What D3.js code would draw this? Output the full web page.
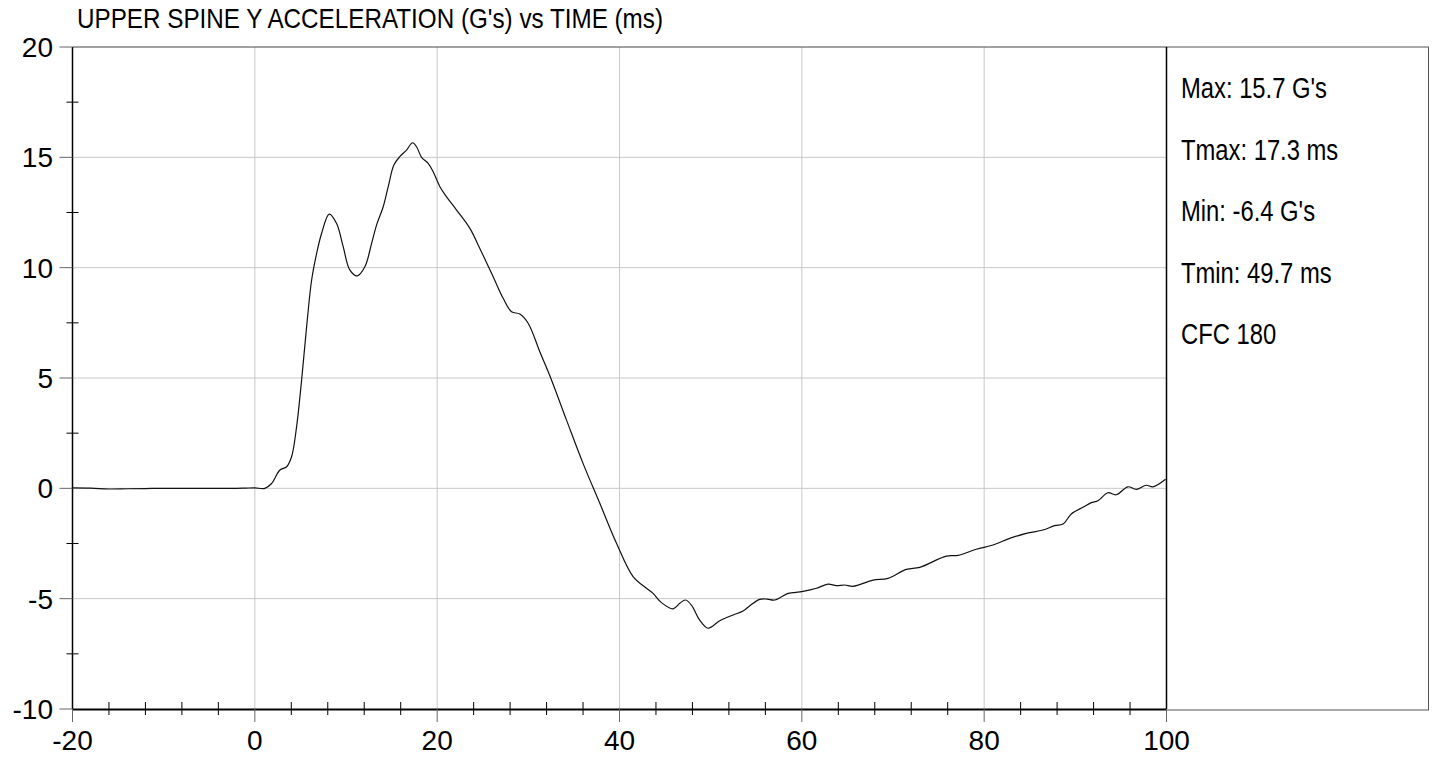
<!DOCTYPE html>
<html><head><meta charset="utf-8">
<script src="https://cdn.jsdelivr.net/npm/d3@7"></script>
<style>
html,body{margin:0;padding:0;background:#fff;}
svg text{font-family:"Liberation Sans",Arial,sans-serif;fill:#000;}
</style></head>
<body><svg id="c" width="1436" height="757"></svg>
<script>
const titleText = "UPPER SPINE Y ACCELERATION (G's) vs TIME (ms)";
const xTickValues = [-20, 0, 20, 40, 60, 80, 100];
const yTickValues = [-10, -5, 0, 5, 10, 15, 20];
const statLabels = ["Max: 15.7 G's", "Tmax: 17.3 ms", "Min: -6.4 G's", "Tmin: 49.7 ms", "CFC 180"];
const timeMs = [-20,-18,-16,-14,-12,-10,-8,-6,-4,-2,-1,0,1.1,1.84,2.75,3.49,4.03,4.58,5.13,5.68,6.23,6.78,7.32,8.16,8.97,9.69,10.43,11.23,12.07,12.81,13.35,14.08,14.63,15.25,15.9,16.64,17.3,17.74,18.29,19.01,19.56,20.3,21.03,22.13,23.59,24.68,26.14,27.24,28.16,29.07,29.98,31.26,32.54,34.19,36.0,37.84,39.67,41.49,42.96,43.68,44.6,45.88,46.61,47.24,47.89,48.8,49.72,51.0,52.46,53.56,54.3,55.38,56.2,57.03,58.49,59.04,60.13,61.6,62.87,63.79,64.7,65.62,67.81,69.45,71.47,72.93,75.85,77.13,79.14,80.97,82.8,84.63,86.45,87.73,88.65,89.56,90.83,91.75,92.48,93.57,94.49,95.77,96.69,97.78,98.51,99.9];
const accelG = [0.02,0.01,-0.03,-0.02,-0.01,0,0,0,0,0,0.01,0.02,0,0.22,0.83,0.98,1.43,2.79,4.9,7.32,9.44,10.65,11.55,12.43,12.0,10.95,9.89,9.63,10.04,11.1,11.93,12.76,13.67,14.65,15.03,15.33,15.66,15.48,15.0,14.73,14.35,13.67,13.21,12.61,11.78,10.87,9.59,8.61,8.0,7.9,7.48,6.19,4.91,3.09,1.13,-0.68,-2.49,-4.0,-4.53,-4.76,-5.18,-5.46,-5.21,-5.06,-5.29,-5.97,-6.34,-6.0,-5.74,-5.56,-5.32,-5.03,-5.02,-5.06,-4.76,-4.73,-4.67,-4.53,-4.34,-4.41,-4.38,-4.44,-4.16,-4.08,-3.67,-3.58,-3.07,-3.04,-2.76,-2.57,-2.27,-2.04,-1.89,-1.69,-1.62,-1.16,-0.86,-0.65,-0.56,-0.2,-0.29,0.07,-0.05,0.14,0.07,0.41];

const svg = d3.select("#c");
const L = 72.5, R = 1166.5, T = 47, B = 709;
const x = d3.scaleLinear().domain([-20, 100]).range([L, R]);
const y = d3.scaleLinear().domain([-10, 20]).range([B, T]);

// gridlines
svg.append("g").selectAll("line").data(xTickValues.slice(1,-1)).join("line")
  .attr("x1", d=>x(d)).attr("x2", d=>x(d)).attr("y1", T).attr("y2", B)
  .attr("stroke", "#c8c8c8").attr("stroke-width", 1);
svg.append("g").selectAll("line").data(yTickValues.slice(1,-1)).join("line")
  .attr("x1", L).attr("x2", R).attr("y1", d=>y(d)).attr("y2", d=>y(d))
  .attr("stroke", "#c8c8c8").attr("stroke-width", 1);

// right stats box
svg.append("rect").attr("x", R).attr("y", T).attr("width", 1428.5 - R).attr("height", B + 1 - T)
  .attr("fill", "none").attr("stroke", "#555").attr("stroke-width", 1);

// frame
svg.append("line").attr("x1", L).attr("x2", R).attr("y1", T).attr("y2", T).attr("stroke", "#444");
svg.append("line").attr("x1", R).attr("x2", R).attr("y1", T).attr("y2", B).attr("stroke", "#000").attr("stroke-width", 1.5);

// x axis
const xMinor = d3.range(-20, 101, 4);
const xAxis = d3.axisBottom(x).tickValues(xMinor).tickSize(0).tickFormat("");
const gx = svg.append("g").attr("transform", `translate(0,${B})`).call(xAxis);
gx.select(".domain").attr("stroke", "#000").attr("stroke-width", 2);
svg.append("g").selectAll("line").data(xMinor.filter(d => d % 20 !== 0)).join("line")
  .attr("x1", d=>x(d)).attr("x2", d=>x(d)).attr("y1", B - 7).attr("y2", B + 6)
  .attr("stroke", "#000").attr("stroke-width", 1);
svg.append("g").selectAll("line").data(xTickValues).join("line")
  .attr("x1", d=>x(d)).attr("x2", d=>x(d)).attr("y1", B).attr("y2", B + 13)
  .attr("stroke", "#666").attr("stroke-width", 1);
svg.append("g").selectAll("text").data(xTickValues).join("text")
  .attr("x", d=>x(d)).attr("y", 750).attr("text-anchor", "middle")
  .attr("font-size", 28).text(d=>d);

// y axis
const yMinor = d3.range(-10, 20.1, 2.5);
svg.append("line").attr("x1", L).attr("x2", L).attr("y1", T).attr("y2", B).attr("stroke", "#000").attr("stroke-width", 1.5);
svg.append("g").selectAll("line").data(yMinor.filter(d => d % 5 !== 0)).join("line")
  .attr("x1", L - 6).attr("x2", L + 6).attr("y1", d=>y(d)).attr("y2", d=>y(d))
  .attr("stroke", "#000").attr("stroke-width", 1);
svg.append("g").selectAll("line").data(yTickValues).join("line")
  .attr("x1", L - 13).attr("x2", L).attr("y1", d=>y(d)).attr("y2", d=>y(d))
  .attr("stroke", "#666").attr("stroke-width", 1);
svg.append("g").selectAll("text").data(yTickValues).join("text")
  .attr("x", 53).attr("y", d=>y(d) + 10).attr("text-anchor", "end")
  .attr("font-size", 28).text(d=>d);

// series line
const line = d3.line().x((d,i)=>x(timeMs[i])).y(d=>y(d)).curve(d3.curveCatmullRom.alpha(0.5));
svg.append("path").datum(accelG).attr("d", line)
  .attr("fill", "none").attr("stroke", "#111").attr("stroke-width", 1.2);

// title (condensed glyphs)
svg.append("text").attr("x", 77).attr("y", 28).attr("font-size", 28)
  .attr("textLength", 586).attr("lengthAdjust", "spacingAndGlyphs").text(titleText);

// stats (condensed glyphs)
svg.append("g").selectAll("text").data(statLabels).join("text")
  .attr("x", 1181).attr("y", (d,i)=>98 + i * 61.6).attr("font-size", 29)
  .text(d=>d)
  .each(function(){
    const w = this.getComputedTextLength();
    d3.select(this).attr("textLength", w * 0.82).attr("lengthAdjust", "spacingAndGlyphs");
  });
</script></body></html>
